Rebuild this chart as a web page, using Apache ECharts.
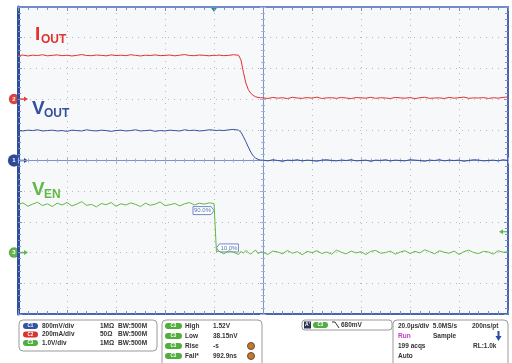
<!DOCTYPE html>
<html>
<head>
<meta charset="utf-8">
<script src="https://cdn.jsdelivr.net/npm/echarts@6.0.0/dist/echarts.min.js"></script>
<style>
  html, body { margin: 0; padding: 0; background: #fff; }
  #scope { width: 512px; height: 363px; }
</style>
</head>
<body>
<div id="scope"></div>
<script>
// sample times, µs (20 µs/div, 10 div on screen)
const timeUs = [
  0, 2, 4, 6, 8, 10, 12, 14, 16, 18, 20, 22, 24, 26, 28, 30, 32, 34, 36, 38,
  40, 42, 44, 46, 48, 50, 52, 54, 56, 58, 60, 62, 64, 66, 68, 70, 72, 74, 76, 78,
  80, 81, 82, 84, 86, 88, 90, 91, 92, 93, 94, 95, 96, 97, 98, 99,
  100, 102, 104, 106, 108, 110, 112, 114, 116, 118, 120, 122, 124, 126, 128, 130,
  132, 134, 136, 138, 140, 142, 144, 146, 148, 150, 152, 154, 156, 158, 160, 162,
  164, 166, 168, 170, 172, 174, 176, 178, 180, 182, 184, 186, 188, 190, 192, 194,
  196, 198, 200
];

// C2 - IOUT, mA
const ioutMa = [
  283, 287, 281, 286, 284, 289, 282, 285, 288, 283, 286, 281, 285, 290, 284, 283, 287, 285, 282, 288,
  284, 286, 283, 289, 285, 281, 286, 284, 288, 283, 285, 287, 282, 286, 290, 284, 283, 287, 285, 282,
  286, 284, 287, 283, 285, 289, 286, 255, 175, 105, 62, 38, 24, 15, 11, 9,
  8, 4, 11, 6, 9, 3, 12, 7, 5, 10, 6, 13, 4, 8, 9, 5,
  11, 7, 3, 10, 8, 6, 12, 5, 9, 7, 4, 11, 8, 6, 10, 3,
  9, 12, 5, 7, 8, 4, 11, 6, 9, 13, 5, 8, 7, 10, 4, 9,
  6, 11, 14
];

// C1 - VOUT, V
const voutV = [
  0.78, 0.77, 0.79, 0.78, 0.80, 0.77, 0.78, 0.79, 0.77, 0.78, 0.76, 0.79, 0.78, 0.77, 0.80, 0.78, 0.77, 0.79, 0.78, 0.76,
  0.78, 0.79, 0.77, 0.78, 0.80, 0.77, 0.78, 0.79, 0.76, 0.78, 0.77, 0.79, 0.78, 0.77, 0.80, 0.78, 0.79, 0.77, 0.78, 0.80,
  0.79, 0.78, 0.79, 0.78, 0.80, 0.81, 0.79, 0.74, 0.62, 0.49, 0.35, 0.22, 0.12, 0.06, 0.03, 0.01,
  0.01, -0.01, 0.02, 0.00, -0.02, 0.01, 0.00, 0.02, -0.01, 0.01, 0.00, -0.02, 0.01, 0.02, 0.00, -0.01,
  0.01, 0.00, 0.02, -0.01, 0.00, 0.01, -0.02, 0.01, 0.00, 0.02, -0.01, 0.01, 0.00, -0.01, 0.02, 0.01,
  0.00, -0.02, 0.01, 0.00, 0.02, -0.01, 0.01, 0.00, 0.01, -0.02, 0.00, 0.02, 0.01, -0.01, 0.00, 0.01,
  -0.01, 0.02, 0.00
];

// C3 - VEN, V
const venV = [
  1.56, 1.62, 1.51, 1.58, 1.64, 1.53, 1.59, 1.50, 1.61, 1.55, 1.63, 1.52, 1.58, 1.66, 1.54, 1.57, 1.49, 1.60, 1.56, 1.63,
  1.51, 1.59, 1.55, 1.62, 1.57, 1.50, 1.61, 1.54, 1.58, 1.65, 1.53, 1.56, 1.60, 1.52, 1.59, 1.63, 1.55, 1.61, 1.58, 1.62,
  1.60, 0.03, 0.05, -0.04, 0.06, 0.01, -0.06, 0.04, -0.02, 0.07, 0.00, -0.05, 0.03, 0.08, -0.03, 0.02,
  0.01, -0.06, 0.05, 0.02, -0.04, 0.07, -0.02, 0.03, -0.07, 0.04, 0.00, 0.06, -0.03, 0.02, -0.05, 0.08,
  0.01, -0.04, 0.05, -0.01, 0.03, -0.06, 0.04, 0.07, -0.02, 0.00, 0.05, -0.05, 0.02, 0.06, -0.03, 0.04,
  -0.01, 0.09, 0.03, -0.04, 0.06, 0.01, -0.02, 0.05, -0.06, 0.03, 0.08, 0.00, -0.03, 0.04, 0.02, -0.05,
  0.06, 0.01, 0.03
];

// vertical scale per division and ground marker position (div from centre)
const perDiv = { vout: 0.8, iout: 200, ven: 1.0 };
const groundDiv = { vout: 0, iout: 2, ven: -3 };

const trigTimeUs = 80;
const trigLevelV = 0.68;
const venHighV = 1.52;

const RED = '#e2312e';
const BLUE = '#33509f';
const GREEN = '#62b845';
const FRAME = '#4865ad';
const TICK = '#7d93c8';
const CTICK = '#a3b2da';

const chart = echarts.init(document.getElementById('scope'));

function trace(values, scale, ground) {
  return timeUs.map((t, i) => [t, values[i] / scale + ground]);
}

function xAxisAt(position, offset, extra) {
  return Object.assign({
    type: 'value', min: 0, max: 200, interval: 20,
    position: position, offset: offset,
    axisLine: { onZero: false, lineStyle: { color: TICK, width: 1 } },
    axisTick: { inside: true, length: 4, lineStyle: { color: TICK } },
    minorTick: { show: true, splitNumber: 5, length: 3, lineStyle: { color: TICK } },
    axisLabel: { show: false },
    splitLine: { show: false }
  }, extra);
}

function yAxisAt(position, offset, extra) {
  return Object.assign({
    type: 'value', min: -5, max: 5, interval: 1,
    position: position, offset: offset,
    axisLine: { onZero: false, lineStyle: { color: TICK, width: 1 } },
    axisTick: { inside: true, length: 4, lineStyle: { color: TICK } },
    minorTick: { show: true, splitNumber: 5, length: 3, lineStyle: { color: TICK } },
    axisLabel: { show: false },
    splitLine: { show: false }
  }, extra);
}

const dotted = { show: true, lineStyle: { color: '#b4b8c0', type: [1, 5], width: 1 } };
// centre cross: ticks on both sides, lighter than the frame
const centreUp = {
  axisLine: { onZero: false, lineStyle: { color: TICK, width: 1 } },
  axisTick: { inside: true, length: 3, lineStyle: { color: CTICK } },
  minorTick: { show: true, splitNumber: 5, length: 2, lineStyle: { color: CTICK } }
};
const centreDown = {
  axisLine: { show: false },
  axisTick: { inside: false, length: 3, lineStyle: { color: CTICK } },
  minorTick: { show: true, splitNumber: 5, length: 2, lineStyle: { color: CTICK } }
};

chart.setOption({
  animation: false,
  backgroundColor: '#ffffff',
  grid: {
    left: 18, top: 7, width: 490, height: 307,
    show: true, backgroundColor: '#f7f8fa', borderWidth: 0
  },
  xAxis: [
    xAxisAt('bottom', 0, { axisLine: { onZero: false, lineStyle: { color: FRAME, width: 2 } }, splitLine: dotted }),
    xAxisAt('top', 0, { axisLine: { onZero: false, lineStyle: { color: '#6f8bcb', width: 2 } } }),
    xAxisAt('bottom', -153.5, centreUp),
    xAxisAt('bottom', -153.5, centreDown)
  ],
  yAxis: [
    yAxisAt('left', 0, { axisLine: { onZero: false, lineStyle: { color: '#2f4f9c', width: 3 } }, splitLine: dotted }),
    yAxisAt('right', 0, { axisLine: { onZero: false, lineStyle: { color: FRAME, width: 2 } } }),
    yAxisAt('left', -245, centreUp),
    yAxisAt('left', -245, centreDown)
  ],
  series: [
    {
      name: 'VEN', type: 'line', showSymbol: false, xAxisIndex: 0, yAxisIndex: 0,
      lineStyle: { color: GREEN, width: 1 },
      data: trace(venV, perDiv.ven, groundDiv.ven)
    },
    {
      name: 'VOUT', type: 'line', showSymbol: false, xAxisIndex: 0, yAxisIndex: 0,
      lineStyle: { color: BLUE, width: 1 },
      data: trace(voutV, perDiv.vout, groundDiv.vout)
    },
    {
      name: 'IOUT', type: 'line', showSymbol: false, xAxisIndex: 0, yAxisIndex: 0,
      lineStyle: { color: RED, width: 1 },
      data: trace(ioutMa, perDiv.iout, groundDiv.iout)
    }
  ]
});

// ---- overlays: trace names, ground markers, trigger marks, readout panel ----
const px = (t, v) => chart.convertToPixel({ xAxisIndex: 0, yAxisIndex: 0 }, [t, v]);
const FONT = 'Liberation Sans, Arial, sans-serif';

function label(x, y, main, sub, color) {
  return [
    { type: 'text', x: x, y: y, style: { text: main, fill: color, font: 'bold 19px ' + FONT, verticalAlign: 'middle' } },
    { type: 'text', x: x + (main === 'I' ? 6 : 12), y: y + 5, style: { text: sub, fill: color, font: 'bold 12px ' + FONT, verticalAlign: 'middle' } }
  ];
}

function groundMark(num, ground, color, r) {
  const p = px(0, ground);
  return [
    { type: 'line', shape: { x1: p[0], y1: p[1], x2: p[0] + 8, y2: p[1] }, style: { stroke: color, lineWidth: 1.5 } },
    { type: 'polygon', shape: { points: [[p[0] + 10, p[1]], [p[0] + 6, p[1] - 2.5], [p[0] + 6, p[1] + 2.5]] }, style: { fill: color } },
    { type: 'circle', shape: { cx: p[0] - 4, cy: p[1], r: r }, style: { fill: color, stroke: 'rgba(0,0,0,0.15)', lineWidth: 1 } },
    { type: 'text', x: p[0] - 4, y: p[1], style: { text: num, fill: '#fff', font: 'bold 6px ' + FONT, align: 'center', verticalAlign: 'middle' } }
  ];
}

function pct(text, t, v, side) {
  const p = px(t, v);
  const ax = p[0], ay = p[1];
  const pts = side === 'left'
    ? [[ax - 21, ay - 4], [ax - 3, ay - 4], [ax, ay], [ax - 3, ay + 4], [ax - 21, ay + 4]]
    : [[ax, ay], [ax + 3, ay - 4], [ax + 22, ay - 4], [ax + 22, ay + 4], [ax + 3, ay + 4]];
  const cx = side === 'left' ? ax - 11.5 : ax + 12.5;
  return [
    { type: 'polygon', shape: { points: pts }, style: { fill: 'rgba(255,255,255,0.85)', stroke: '#6f8bc8', lineWidth: 1 } },
    { type: 'text', x: cx, y: ay, style: { text: text, fill: '#5c74b3', font: '6px ' + FONT, align: 'center', verticalAlign: 'middle' } }
  ];
}

function txt(x, y, s, color, size) {
  return { type: 'text', x: x, y: y, style: { text: s, fill: color || '#333', font: 'bold ' + (size || 6.5) + 'px ' + FONT, verticalAlign: 'middle' } };
}

function pill(x, y, s, color, w) {
  return [
    { type: 'rect', shape: { x: x, y: y - 3, width: w || 15, height: 6, r: 3 }, style: { fill: color } },
    { type: 'text', x: x + (w || 15) / 2, y: y, style: { text: s, fill: '#fff', font: 'bold 4.5px ' + FONT, align: 'center', verticalAlign: 'middle' } }
  ];
}

function box(x, y, w, h) {
  return { type: 'rect', shape: { x: x, y: y, width: w, height: h, r: 4 }, style: { fill: '#fff', stroke: '#9a9a9a', lineWidth: 1 } };
}

const trigTop = px(trigTimeUs, 5);
const trigLvl = px(200, trigLevelV / perDiv.ven + groundDiv.ven);
const g = [];

g.push(...label(35, 35, 'I', 'OUT', RED));
g.push(...label(32, 109, 'V', 'OUT', BLUE));
g.push(...label(32, 190, 'V', 'EN', GREEN));

g.push(...groundMark('2', groundDiv.iout, '#e0413a', 5));
g.push(...groundMark('1', groundDiv.vout, '#2d4a99', 6));
g.push(...groundMark('3', groundDiv.ven, '#5fb64a', 5));

g.push({ type: 'polygon', shape: { points: [[trigTop[0] - 3.5, trigTop[1]], [trigTop[0] + 3.5, trigTop[1]], [trigTop[0], trigTop[1] + 5]] }, style: { fill: '#1d8a8a' } });
g.push({ type: 'line', shape: { x1: trigLvl[0] - 7, y1: trigLvl[1], x2: trigLvl[0] - 1, y2: trigLvl[1] }, style: { stroke: GREEN, lineWidth: 1.2 } });
g.push({ type: 'polygon', shape: { points: [[trigLvl[0] - 9, trigLvl[1]], [trigLvl[0] - 5, trigLvl[1] - 2.5], [trigLvl[0] - 5, trigLvl[1] + 2.5]] }, style: { fill: GREEN } });

g.push(...pct('90.0%', trigTimeUs, 0.9 * venHighV / perDiv.ven + groundDiv.ven, 'left'));
g.push(...pct('10.0%', trigTimeUs + 1, 0.1 * venHighV / perDiv.ven + groundDiv.ven, 'right'));

// channel setup box
g.push(box(19, 320, 138, 31));
g.push(...pill(23, 326, 'C1', '#3552a4'), txt(42, 326, '800mV/div'), txt(100, 326, '1MΩ'), txt(118, 326, 'BW:500M'));
g.push(...pill(23, 334.5, 'C2', '#d93330'), txt(42, 334.5, '200mA/div'), txt(100, 334.5, '50Ω'), txt(118, 334.5, 'BW:500M'));
g.push(...pill(23, 343, 'C3', '#4fae3d'), txt(42, 343, '1.0V/div'), txt(100, 343, '1MΩ'), txt(118, 343, 'BW:500M'));

// measurement box
g.push(box(162, 320, 100, 48));
const meas = [['High', '1.52V'], ['Low', '38.15nV'], ['Rise', '-s'], ['Fall*', '992.9ns']];
meas.forEach((m, i) => {
  const y = 326 + i * 10;
  g.push(...pill(165, y, 'C3', '#4fae3d', 17), txt(185, y, m[0]), txt(213, y, m[1]));
  if (i >= 2) {
    g.push({ type: 'circle', shape: { cx: 251, cy: y, r: 3.5 }, style: { fill: '#c27a2c', stroke: '#6b4a2a', lineWidth: 1 } });
  }
});

// trigger box
g.push({ type: 'rect', shape: { x: 302, y: 320, width: 90, height: 10, r: 3 }, style: { fill: '#fff', stroke: '#9a9a9a', lineWidth: 1 } });
g.push({ type: 'rect', shape: { x: 304, y: 321.5, width: 7, height: 7 }, style: { fill: '#2b3550' } });
g.push({ type: 'text', x: 307.5, y: 325, style: { text: "A'", fill: '#fff', font: 'bold 5px ' + FONT, align: 'center', verticalAlign: 'middle' } });
g.push(...pill(313, 325, 'C3', '#4fae3d', 15));
g.push({ type: 'polyline', shape: { points: [[332, 322], [335, 322], [339, 328]] }, style: { stroke: '#333', lineWidth: 1, fill: null } });
g.push(txt(341, 325, '680mV'));

// timebase box
g.push(box(393, 320, 115, 48));
g.push(txt(398, 326, '20.0µs/div  5.0MS/s'), txt(472, 326, '200ns/pt'));
g.push(txt(398, 336, 'Run', '#c23ac2'), txt(433, 336, 'Sample'));
g.push({ type: 'rect', shape: { x: 497.5, y: 331, width: 2, height: 6 }, style: { fill: '#2a49a8' } });
g.push({ type: 'polygon', shape: { points: [[495.5, 336], [501.5, 336], [498.5, 341]] }, style: { fill: '#2a49a8' } });
g.push(txt(398, 346, '199 acqs'), txt(473, 346, 'RL:1.0k'));
g.push(txt(398, 356, 'Auto'));

chart.setOption({ graphic: g });
</script>
</body>
</html>
